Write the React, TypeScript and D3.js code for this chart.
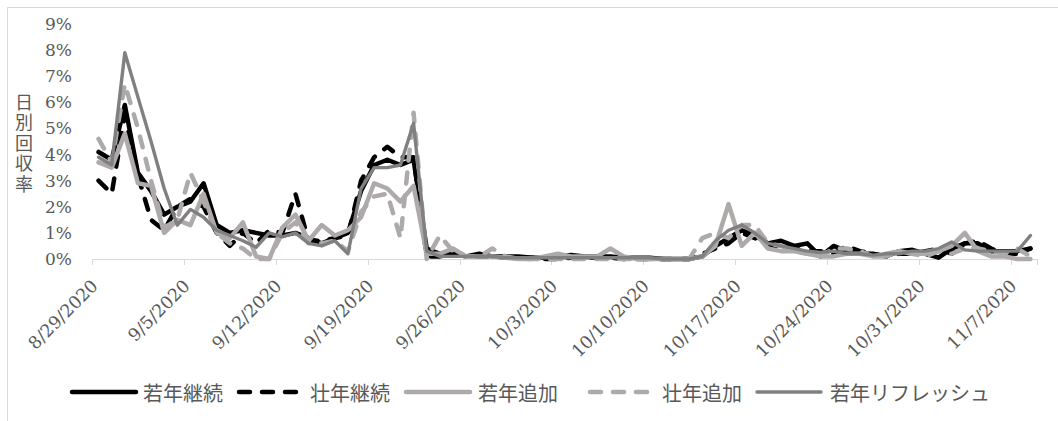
import React from "react";
import * as d3 from "d3";

// ---- data ----
const startDate = new Date(2020, 7, 29);
const endDate = new Date(2020, 10, 9); // exclusive
const dates = d3.timeDay.range(startDate, endDate); // 72 days
const tickLabels = ["8/29/2020", "9/5/2020", "9/12/2020", "9/19/2020", "9/26/2020", "10/3/2020", "10/10/2020", "10/17/2020", "10/24/2020", "10/31/2020", "11/7/2020"];
const yTicks = [0, 1, 2, 3, 4, 5, 6, 7, 8, 9];
const seriesNames = ["若年継続", "壮年継続", "若年追加", "壮年追加", "若年リフレッシュ"];
const yTitle = "日別回収率";

const wakaKeizoku = [
  4.1, 3.8, 5.9, 3.3, 2.6, 1.7, 2.0, 2.2, 2.9, 1.3,
  1.0, 1.1, 1.0, 0.9, 0.9, 1.0, 0.8, 0.6, 0.8, 1.0,
  2.6, 3.6, 3.8, 3.6, 3.8, 0.4, 0.2, 0.2, 0.1, 0.2,
  0.1, 0.1, 0.1, 0.05, 0.05, 0.1, 0.15, 0.1, 0.1, 0.1,
  0.05, 0.05, 0.05, 0, 0, 0, 0.1, 0.5, 0.8, 1.1,
  0.9, 0.6, 0.7, 0.5, 0.6, 0.1, 0.5, 0.3, 0.2, 0.2,
  0.1, 0.3, 0.35, 0.2, 0.05, 0.4, 0.6, 0.6, 0.3, 0.3,
  0.3, 0.4,
];
const souKeizoku = [
  3.0, 2.5, 5.5, 3.2, 1.5, 1.1, 2.0, 2.3, 2.0, 1.0,
  0.5, 1.0, 0.6, 1.1, 1.0, 2.5, 0.7, 0.7, 0.8, 0.9,
  3.0, 3.9, 4.3, 3.9, 3.9, 0.1, 0.1, 0.2, 0.1, 0.1,
  0.1, 0.05, 0.05, 0.05, 0, 0, 0.05, 0.05, 0.05, 0.05,
  0, 0, 0, 0, 0, 0, 0.2, 0.4, 0.6, 1.0,
  0.8, 0.5, 0.5, 0.4, 0.3, 0.3, 0.2, 0.5, 0.3, 0.2,
  0.1, 0.2, 0.2, 0.3, 0.4, 0.2, 0.6, 0.7, 0.4, 0.2,
  0.2, 0.4,
];
const wakaTsuika = [
  3.7, 3.5, 4.8, 2.9, 2.8, 1.0, 1.5, 1.3, 2.5, 1.0,
  0.8, 1.4, 0.1, 0.0, 1.2, 1.7, 0.7, 1.3, 0.9, 1.1,
  1.6, 2.9, 2.7, 2.2, 2.8, 0.2, 0.2, 0.4, 0.1, 0.1,
  0.1, 0.05, 0, 0, 0.1, 0.2, 0.1, 0.1, 0.1, 0.4,
  0.1, 0, 0, 0, 0, 0, 0.1, 0.5, 2.1, 0.5,
  1.0, 0.4, 0.3, 0.3, 0.2, 0.1, 0.1, 0.2, 0.2, 0.1,
  0.1, 0.3, 0.2, 0.2, 0.3, 0.5, 1.0, 0.3, 0.1, 0.1,
  0.0, 0.0,
];
const souTsuika = [
  4.6, 3.7, 6.7, 5.0, 3.0, 1.2, 1.5, 3.3, 2.2, 1.0,
  0.6, 0.4, 0.0, 0.0, 1.0, 1.4, 0.6, 0.6, 0.7, 0.3,
  1.8, 2.4, 2.5, 0.8, 5.6, 0.0, 0.9, 0.3, 0.1, 0.1,
  0.4, 0.1, 0, 0, 0, 0, 0, 0, 0, 0,
  0, 0, 0, 0, 0, 0, 0.8, 1.0, 0.8, 1.3,
  1.3, 0.6, 0.5, 0.3, 0.2, 0.1, 0.4, 0.4, 0.3, 0.1,
  0.2, 0.3, 0.2, 0.1, 0.3, 0.2, 0.4, 0.4, 0.3, 0.2,
  0.4, 0.1,
];
const wakaRefresh = [
  3.9, 3.6, 7.9, 6.2, 4.5, 2.7, 1.3, 1.9, 1.6, 1.1,
  0.9, 0.7, 0.45, 1.0, 0.85, 1.0, 0.6, 0.5, 0.7, 0.2,
  2.7, 3.5, 3.5, 3.6, 5.2, 0.3, 0.1, 0.1, 0.1, 0.1,
  0.1, 0.05, 0.05, 0.05, 0.05, 0.05, 0.05, 0.05, 0.05, 0.05,
  0.05, 0.05, 0.05, 0, 0, 0, 0.1, 0.7, 1.1, 1.3,
  1.0, 0.6, 0.5, 0.4, 0.3, 0.25, 0.3, 0.2, 0.2, 0.15,
  0.2, 0.2, 0.3, 0.3, 0.4, 0.65, 0.35, 0.3, 0.3, 0.3,
  0.3, 0.9,
];

const seriesValues = [wakaKeizoku, souKeizoku, wakaTsuika, souTsuika, wakaRefresh];
const seriesStyles = [
  { color: "#000000", width: 4.5, dash: null },
  { color: "#000000", width: 4.5, dash: "11 12" },
  { color: "#aeaaaa", width: 4.5, dash: null },
  { color: "#aeaaaa", width: 4.5, dash: "11 12" },
  { color: "#808080", width: 3.4, dash: null },
];

const W = 1058;
const H = 421;
const TEXT = "#595959";
const SERIF = "'DejaVu Serif', 'Liberation Serif', serif";
const SANS = "'Noto Sans CJK JP', 'Noto Sans', sans-serif";

export default function App() {
  const x = d3.scaleTime().domain([startDate, endDate]).range([92, 1037]);
  const y = d3.scaleLinear().domain([0, 9]).range([259, 24]);
  const halfDay = 12 * 3600 * 1000;
  const line = d3
    .line<number>()
    .x((_, i) => x(new Date(dates[i].getTime() + halfDay)))
    .y((v) => y(v));
  const tickDatesAll = d3.timeDay.range(startDate, endDate, 7);

  const legendItems = [
    { lx: 70, tx: 143 },
    { lx: 237, tx: 310 },
    { lx: 404, tx: 478 },
    { lx: 588, tx: 662 },
    { lx: 755, tx: 830 },
  ];
  const legendY = 392;

  return (
    <svg width={W} height={H} style={{ position: "absolute", left: 0, top: 0 }}>
      <rect x={0} y={0} width={W} height={H} fill="#ffffff" />
      <path d={`M7.5,${H} V7.5 H${W}`} fill="none" stroke="#d9d9d9" strokeWidth={1} />

      {/* y axis title, vertical writing */}
      <text
        x={24}
        y={93}
        fontFamily={SANS}
        fontSize={18}
        fill={TEXT}
        style={{ writingMode: "vertical-rl", textOrientation: "upright", letterSpacing: "2.5px" }}
      >
        {yTitle}
      </text>

      {/* y tick labels */}
      {yTicks.map((t) => (
        <text key={t} x={72} y={y(t)} fontFamily={SERIF} fontSize={17} fill={TEXT} textAnchor="end" dominantBaseline="central">
          {t}%
        </text>
      ))}

      {/* x axis */}
      <line x1={92} x2={1037} y1={259.5} y2={259.5} stroke="#d9d9d9" strokeWidth={1} />
      {tickDatesAll.map((d, i) => (
        <line key={i} x1={Math.round(x(d)) + 0.5} x2={Math.round(x(d)) + 0.5} y1={259} y2={265} stroke="#d9d9d9" strokeWidth={1} />
      ))}
      <line x1={1037.5} x2={1037.5} y1={259} y2={265} stroke="#d9d9d9" strokeWidth={1} />
      {tickDatesAll.map((d, i) => (
        <text key={i} transform={`translate(${x(d) + 7},${287}) rotate(-45)`} fontFamily={SERIF} fontSize={17.5} fill={TEXT} textAnchor="end">
          {tickLabels[i]}
        </text>
      ))}

      {/* series */}
      {seriesValues.map((vals, s) => (
        <path
          key={s}
          d={line(vals) ?? ""}
          fill="none"
          stroke={seriesStyles[s].color}
          strokeWidth={seriesStyles[s].width}
          strokeDasharray={seriesStyles[s].dash ?? undefined}
          strokeLinecap="round"
          strokeLinejoin="round"
        />
      ))}

      {/* legend */}
      {legendItems.map((it, s) => (
        <g key={s}>
          <line
            x1={it.lx + 2}
            x2={it.lx + 66}
            y1={legendY}
            y2={legendY}
            stroke={seriesStyles[s].color}
            strokeWidth={seriesStyles[s].width}
            strokeDasharray={seriesStyles[s].dash ?? undefined}
            strokeLinecap="round"
          />
          <text x={it.tx} y={legendY} fontFamily={SANS} fontSize={20} fill={TEXT} dominantBaseline="central">
            {seriesNames[s]}
          </text>
        </g>
      ))}
    </svg>
  );
}
